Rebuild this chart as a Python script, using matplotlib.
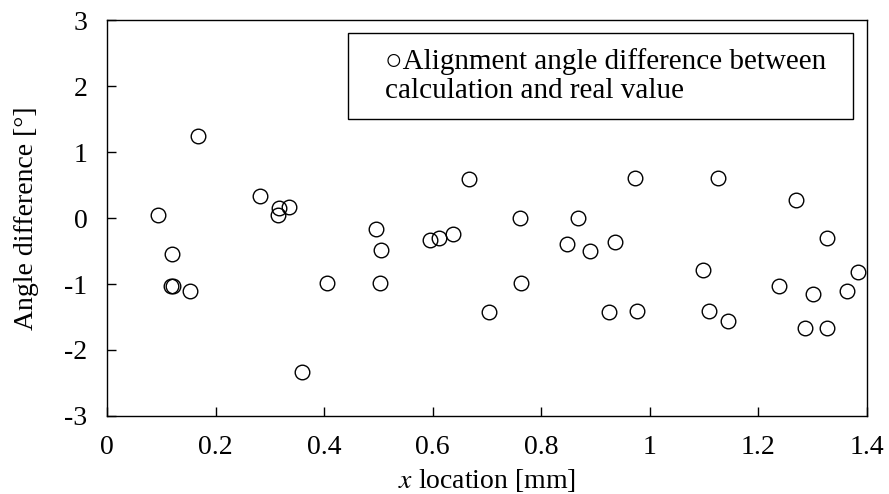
"""
Angle difference between calculated and real alignment angle vs. x location.
"""

import matplotlib
matplotlib.use("Agg")
import matplotlib.pyplot as plt
from matplotlib.patches import Rectangle

plt.rcParams["font.family"] = ["Liberation Serif", "DejaVu Serif", "DejaVu Sans"]
plt.rcParams["mathtext.fontset"] = "stix"
plt.rcParams["axes.unicode_minus"] = False

# ── data ─────────────────────────────────────────────────────────────────────
x_loc = [0.094, 0.119, 0.118, 0.122, 0.153, 0.167, 0.281, 0.315, 0.317, 0.335,
         0.360, 0.405, 0.496, 0.504, 0.502, 0.595, 0.612, 0.638, 0.666, 0.703,
         0.760, 0.762, 0.847, 0.867, 0.890, 0.924, 0.935, 0.972, 0.977, 1.097,
         1.108, 1.125, 1.144, 1.238, 1.270, 1.286, 1.300, 1.326, 1.326, 1.363,
         1.383]
angle_diff = [0.05, -0.54, -1.03, -1.03, -1.11, 1.25, 0.34, 0.05, 0.15, 0.16,
              -2.33, -0.99, -0.16, -0.48, -0.99, -0.33, -0.30, -0.24, 0.59, -1.43,
              0.00, -0.99, -0.40, 0.00, -0.50, -1.43, -0.36, 0.61, -1.41, -0.79,
              -1.41, 0.61, -1.56, -1.03, 0.28, -1.67, -1.15, -0.30, -1.67, -1.10,
              -0.82]

x_ticks = [0, 0.2, 0.4, 0.6, 0.8, 1.0, 1.2, 1.4]
x_tick_labels = ["0", "0.2", "0.4", "0.6", "0.8", "1", "1.2", "1.4"]
y_ticks = [-3, -2, -1, 0, 1, 2, 3]

FS = 20

fig = plt.figure(figsize=(8.89, 4.94), dpi=100)
ax = fig.add_axes([0.1204, 0.1579, 0.8549, 0.8016])

ax.plot(x_loc, angle_diff, linestyle="none", marker="o", markersize=10.5,
        markerfacecolor="none", markeredgecolor="black", markeredgewidth=1.0)

ax.set_xlim(0, 1.4)
ax.set_ylim(-3, 3)
ax.set_xticks(x_ticks)
ax.set_xticklabels(x_tick_labels)
ax.set_yticks(y_ticks)
ax.tick_params(direction="in", length=6.5, width=1.0, labelsize=FS, pad=14,
               top=False, right=False)
for sp in ax.spines.values():
    sp.set_linewidth(1.0)

ax.set_xlabel("$x$ location [mm]", fontsize=FS, labelpad=5)
ax.set_ylabel("Angle difference [°]", fontsize=FS, labelpad=18)

# legend-like box
ax.add_patch(Rectangle((0.317, 0.75), 0.665, 0.217, transform=ax.transAxes,
                       facecolor="white", edgecolor="black", linewidth=1.0,
                       zorder=3))
ax.text(0.366, 0.859, "○Alignment angle difference between\ncalculation and real value",
        transform=ax.transAxes, ha="left", va="center", fontsize=FS + 1,
        linespacing=1.12, zorder=4,
        family=["Liberation Serif", "DejaVu Sans"])

fig.savefig("out.png", dpi=100)
plt.close(fig)
